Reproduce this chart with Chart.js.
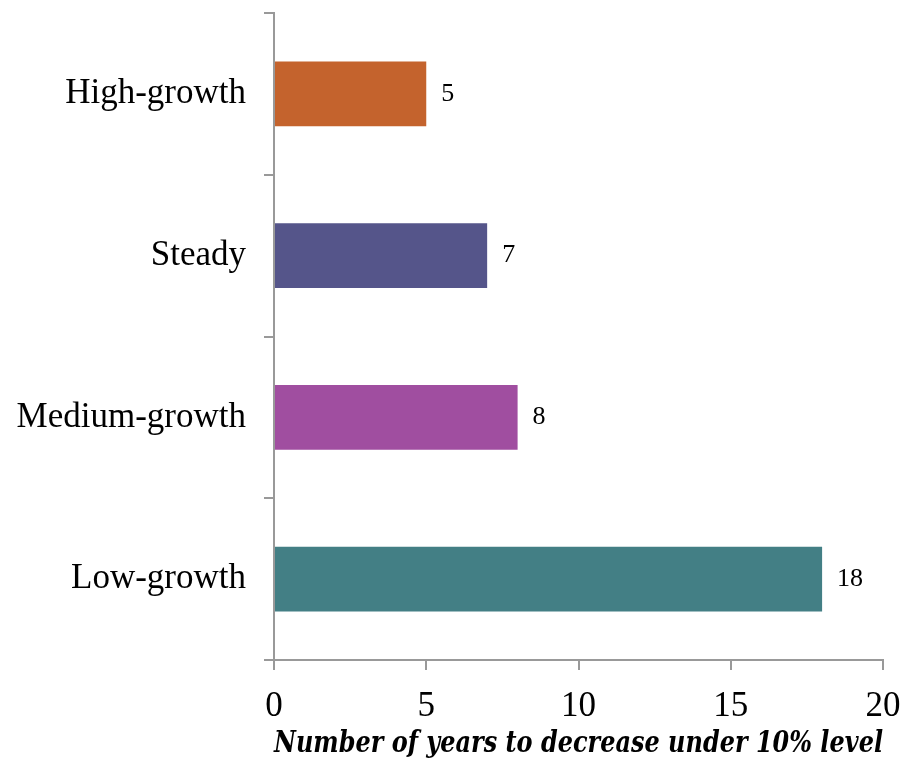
<!DOCTYPE html>
<html>
<head>
<meta charset="utf-8">
<script src="https://cdn.jsdelivr.net/npm/chart.js@4/dist/chart.umd.min.js"></script>
<style>
  html, body { margin: 0; padding: 0; background: #fff; }
  #wrap { width: 907px; height: 762px; }
</style>
</head>
<body>
<div id="wrap"><canvas id="myBarChart"></canvas></div>
<script>
const categories = ["High-growth", "Steady", "Medium-growth", "Low-growth"];
const years = [5, 7, 8, 18];
const barColors = ["#C4632D", "#55558A", "#A04EA0", "#437F85"];
const xTicks = [0, 5, 10, 15, 20];
const xTitle = "Number of years to decrease under 10% level";

const serif = "'Liberation Serif', 'DejaVu Serif', serif";

// little plugin that writes the value next to each bar
const valueLabels = {
  id: "valueLabels",
  afterDatasetsDraw(chart) {
    const ctx = chart.ctx;
    const meta = chart.getDatasetMeta(0);
    ctx.save();
    ctx.font = "26px " + serif;
    ctx.fillStyle = "#000";
    ctx.textAlign = "left";
    ctx.textBaseline = "middle";
    meta.data.forEach(function (bar, i) {
      ctx.fillText(String(years[i]), bar.x + 15, bar.y);
    });
    ctx.restore();
  },
};

document.addEventListener("DOMContentLoaded", function () {
  const ctx = document.getElementById("myBarChart").getContext("2d");

  const myBarChart = new Chart(ctx, {
    type: "bar",
    data: {
      labels: categories,
      datasets: [
        {
          label: "Years",
          data: years,
          backgroundColor: barColors,
          categoryPercentage: 1,
          barPercentage: 0.4,
        },
      ],
    },
    options: {
      indexAxis: "y",
      responsive: true,
      maintainAspectRatio: false,
      animation: false,
      layout: { padding: { top: 13, left: 10, right: 0, bottom: 0 } },
      plugins: {
        legend: { display: false },
        tooltip: { enabled: false },
      },
      scales: {
        x: {
          min: 0,
          max: 20,
          afterBuildTicks: function (scale) {
            scale.ticks = xTicks.map(function (v) { return { value: v }; });
          },
          afterFit: function (scale) {
            scale.height = 102;
            scale.paddingLeft = 0;
            scale.paddingRight = 24;
          },
          border: { color: "#999", width: 2 },
          grid: {
            drawOnChartArea: false,
            drawTicks: true,
            tickLength: 10,
            color: "#999",
            lineWidth: 2,
          },
          ticks: {
            font: { family: serif, size: 35 },
            color: "#000",
            padding: 16,
            maxRotation: 0,
          },
          title: {
            display: true,
            text: xTitle,
            font: { family: "'DejaVu Serif', serif", size: 29, weight: "bold", style: "italic" },
            color: "#000",
            padding: { top: 0, bottom: 0 },
          },
        },
        y: {
          afterFit: function (scale) {
            scale.width = 264;
            scale.paddingTop = 0;
            scale.paddingBottom = 0;
          },
          border: { color: "#999", width: 2 },
          grid: {
            offset: true,
            drawOnChartArea: false,
            drawTicks: true,
            tickLength: 10,
            color: "#999",
            lineWidth: 2,
          },
          ticks: {
            font: { family: serif, size: 35 },
            color: "#000",
            padding: 18,
          },
        },
      },
    },
    plugins: [valueLabels],
  });
});
</script>
</body>
</html>
